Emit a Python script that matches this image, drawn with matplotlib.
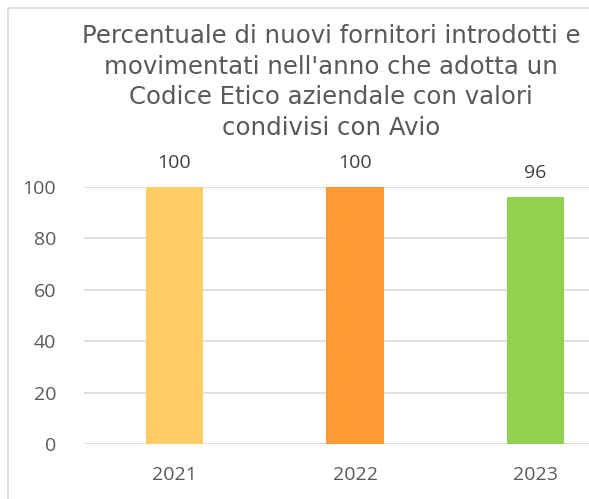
import matplotlib.pyplot as plt
from matplotlib.patches import Rectangle

years = ["2021", "2022", "2023"]
values = [100, 100, 96]
colors = ["#FFCC66", "#FF9933", "#92D050"]
title = ("Percentuale di nuovi fornitori introdotti e\n"
         "movimentati nell'anno che adotta un\n"
         "Codice Etico aziendale con valori\n"
         "condivisi con Avio")
yticks = [0, 20, 40, 60, 80, 100]

W, H = 589, 499
grey = "#595959"
plt.rcParams['font.family'] = ['Open Sans', 'DejaVu Sans']

fig = plt.figure(figsize=(W / 100, H / 100), dpi=100)

# outer chart frame (cut off on right and bottom)
fig.patches.append(Rectangle((8 / W, -0.1), 1.2, (H - 8) / H + 0.1,
                             transform=fig.transFigure, fill=False,
                             edgecolor="#D9D9D9", linewidth=1.2))

# axes spans past the right edge like the cropped original
ax = fig.add_axes([84 / W, 55 / H, 542 / W, 257 / H])
x = list(range(len(years)))
ax.bar(x, values, width=0.316, color=colors, zorder=3)
ax.set_xlim(-0.5, 2.5)
ax.set_ylim(0, 100)
ax.set_yticks(yticks)
ax.set_xticks(x)
ax.set_xticklabels(years)
ax.yaxis.grid(True, color="#D9D9D9", linewidth=1.2, zorder=0)
ax.set_axisbelow(True)
for s in ax.spines.values():
    s.set_visible(False)
ax.tick_params(axis="both", length=0, labelsize=14, colors=grey)
ax.tick_params(axis="y", pad=20)
ax.tick_params(axis="x", pad=16)

for xi, v in zip(x, values):
    ax.annotate(str(v), (xi, v), xytext=(0, 11), textcoords="offset points",
                ha="center", va="bottom", fontsize=14, color="#404040")

fig.text(331 / W, 1 - 82 / H, title, ha="center", va="center",
         fontsize=17.6, color=grey, linespacing=1.35, family="DejaVu Sans")

fig.savefig("out.png", dpi=100)
